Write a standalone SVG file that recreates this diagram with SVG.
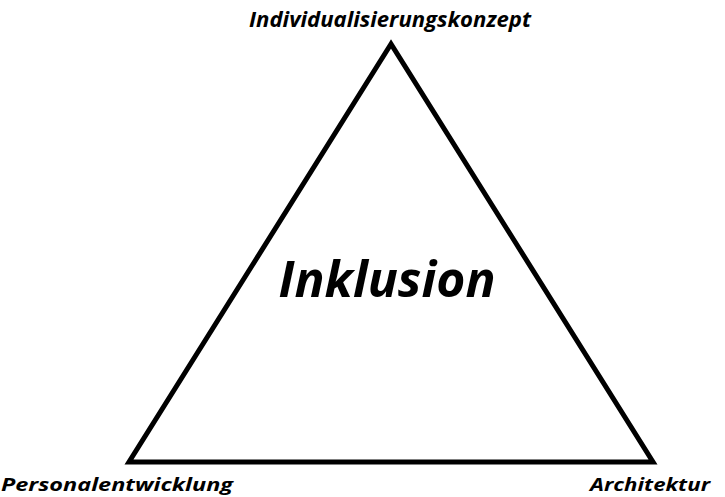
<svg xmlns="http://www.w3.org/2000/svg" width="725" height="497" viewBox="0 0 725 497">
<style>
.lbl{font-family:"Open Sans","Liberation Sans",sans-serif;font-weight:bold;font-style:italic;fill:#000;}
.edge{fill:none;stroke:#000;stroke-width:5;stroke-linejoin:miter;}
</style>
<rect width="725" height="497" fill="#fff"/>
<g id="connectors">
<polygon class="edge" points="391,44 129,462 653,462"/>
</g>
<g id="node-top"><text class="lbl" x="390" y="27" font-size="21" text-anchor="middle" textLength="282" lengthAdjust="spacingAndGlyphs">Individualisierungskonzept</text></g>
<g id="node-center"><text class="lbl" x="387" y="297" font-size="50" text-anchor="middle" textLength="217" lengthAdjust="spacingAndGlyphs">Inklusion</text></g>
<g id="node-left"><text class="lbl" x="1" y="491" font-size="18" textLength="232" lengthAdjust="spacingAndGlyphs">Personalentwicklung</text></g>
<g id="node-right"><text class="lbl" x="590" y="491" font-size="18" textLength="120" lengthAdjust="spacingAndGlyphs">Architektur</text></g>
</svg>
